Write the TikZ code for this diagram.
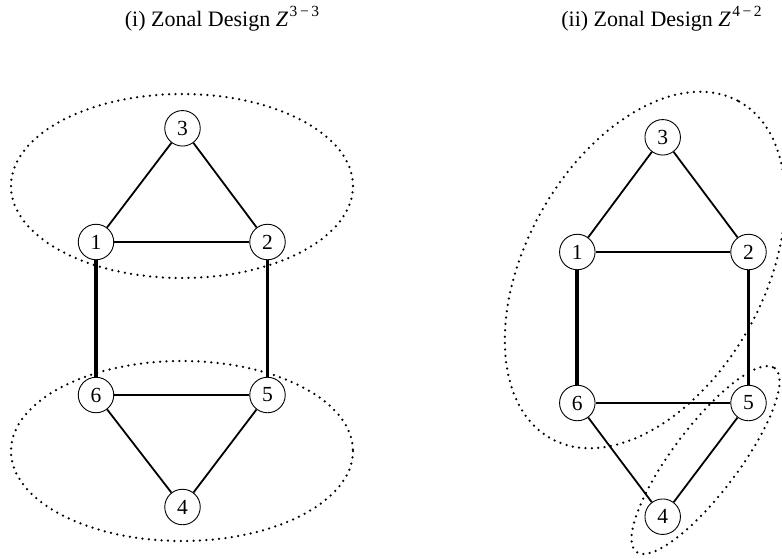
\documentclass[tikz,border=0pt]{standalone}
\usepackage{fontspec}
\setmainfont{Liberation Serif}
\newcommand{\zsup}[1]{\kern1.5pt\raisebox{0.42em}{\fontsize{15.5}{17}\selectfont #1}}
\begin{document}
\begin{tikzpicture}[x=1pt,y=-1pt,
  vtx/.style={circle,draw,line width=0.9pt,minimum size=35.5pt,inner sep=0pt,font=\fontsize{21.5}{24}\selectfont},
  thin edge/.style={line width=1.8pt},
  thick edge/.style={line width=3.8pt},
  zone/.style={line width=2.5pt,line cap=round,dash pattern=on 0pt off 6.4pt},
  title/.style={anchor=base,font=\fontsize{22}{25}\selectfont}]
\useasboundingbox (0,0) rectangle (782,558);
% titles
\node[title] (t1) at (222,26) {(i) Zonal Design \textit{Z}\zsup{3\,−\,3}};
\node[title] (t2) at (661.5,26) {(ii) Zonal Design \textit{Z}\zsup{4\,−\,2}};
% left graph
\node[vtx] (a3) at (182.5,128.3) {3};
\node[vtx] (a1) at (96,242) {1};
\node[vtx] (a2) at (267.5,242) {2};
\node[vtx] (a6) at (96,395) {6};
\node[vtx] (a5) at (267.5,395) {5};
\node[vtx] (a4) at (182.5,507) {4};
\draw[thin edge] (a3) -- (a1);
\draw[thin edge] (a3) -- (a2);
\draw[thin edge] (a1) -- (a2);
\draw[thick edge] (a1) -- (a6);
\draw[thick edge] (a2) -- (a5);
\draw[thin edge] (a6) -- (a5);
\draw[thin edge] (a6) -- (a4);
\draw[thin edge] (a5) -- (a4);
\draw[zone] (182,186) ellipse [x radius=171, y radius=92];
\draw[zone] (182,451) ellipse [x radius=171, y radius=90];
% right graph
\node[vtx] (b3) at (662.7,137.3) {3};
\node[vtx] (b1) at (577.3,252) {1};
\node[vtx] (b2) at (748.5,252) {2};
\node[vtx] (b6) at (577.3,403) {6};
\node[vtx] (b5) at (748.5,403) {5};
\node[vtx] (b4) at (662.7,516.7) {4};
\draw[thin edge] (b3) -- (b1);
\draw[thin edge] (b3) -- (b2);
\draw[thin edge] (b1) -- (b2);
\draw[thick edge] (b1) -- (b6);
\draw[thick edge] (b2) -- (b5);
\draw[thin edge] (b6) -- (b5);
\draw[thin edge] (b6) -- (b4);
\draw[thin edge] (b5) -- (b4);
\draw[zone,rotate around={60.8:(645,270)}] (645,270) ellipse [x radius=193, y radius=119];
\draw[zone,rotate around={53:(705.5,460)}] (705.5,460) ellipse [x radius=115, y radius=33];
\end{tikzpicture}
\end{document}
